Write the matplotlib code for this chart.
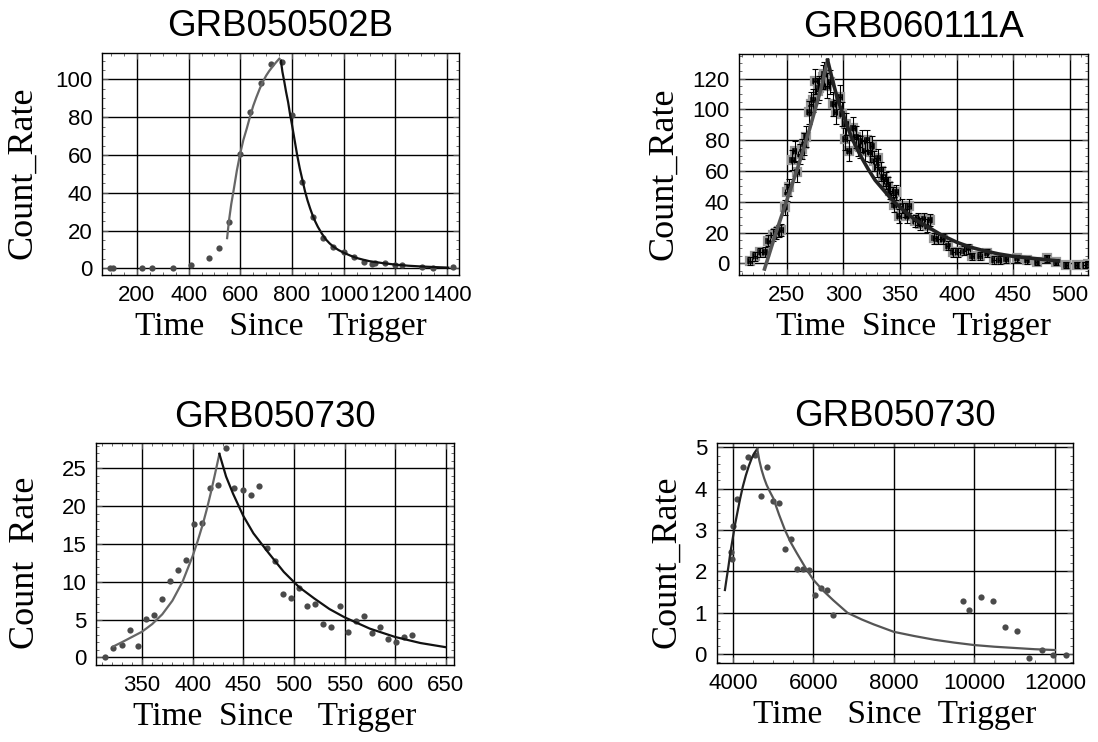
import matplotlib
matplotlib.use("Agg")
import matplotlib.pyplot as plt
from matplotlib.ticker import MultipleLocator

# ---- GRB050502B ----
t1 = [97, 107, 219, 258, 340, 410, 479, 519, 558, 599, 639, 679, 718, 760,
      800, 840, 880, 921, 960, 1000, 1040, 1079, 1109, 1121, 1160, 1200,
      1225, 1303, 1346, 1423]
r1 = [0.0, 0.3, 0.0, 0.3, 0.3, 2.0, 5.3, 10.6, 24.7, 60.7, 82.5, 98.2, 108.3,
      109.2, 81.0, 45.5, 27.2, 16.0, 11.5, 8.5, 6.2, 3.5, 2.5, 2.6, 2.6, 1.8,
      1.6, 0.7, 0.2, 0.7]
rise1_t = [549, 556, 565, 575, 587, 600, 612, 625, 637, 650, 662, 675, 687,
           700, 712, 725, 738, 751]
rise1_r = [16, 25, 34, 42, 52, 61, 68, 74, 80, 86, 90.5, 95, 98.7, 102,
           104.5, 106.8, 109, 111]
decay1_t = [757, 763, 770, 777, 785, 792, 800, 810, 820, 830, 840, 850, 860,
            870, 880, 890, 900, 915, 930, 945, 960, 980, 1000, 1025, 1050,
            1075, 1100, 1150, 1200, 1250, 1300, 1350, 1405]
decay1_r = [110, 104, 99, 93.5, 88, 82, 76, 68, 60, 53, 47, 41, 36, 31.8,
            28, 24.8, 22, 18.5, 15.5, 13.3, 11.5, 9.7, 8.3, 6.8, 5.5, 4.6,
            3.8, 2.8, 2.0, 1.4, 1.0, 0.7, 0.4]

# ---- GRB060111A ----
t2 = [217.6, 222.0, 226.5, 230.3, 233.8, 237.6, 240.3, 243.2, 245.0, 248.0,
      250.0, 252.0, 255.0, 256.8, 259.0, 261.5, 263.2, 265.6, 266.8, 269.7,
      271.5, 273.2, 275.0, 277.4, 278.8, 281.5, 283.2, 285.3, 288.2, 291.2,
      293.2, 297.0, 298.5, 301.5, 302.4, 305.0, 308.8, 310.9, 312.6, 314.7,
      316.8, 319.1, 321.2, 323.2, 325.0, 327.4, 329.4, 330.9, 333.2, 335.3,
      337.4, 339.1, 341.5, 343.8, 345.0, 346.8, 349.1, 351.5, 354.4, 355.9,
      358.0, 363.2, 365.6, 368.0, 370.9, 373.5, 376.2, 380.3, 383.8, 387.6,
      392.0, 397.0, 401.5, 406.8, 410.0, 413.8, 420.6, 426.5, 433.0, 438.0,
      444.0, 453.0, 461.8, 470.6, 480.0, 488.0, 497.0, 506.0, 513.0, 516.0]
r2 = [1.3, 4.5, 7.1, 7.4, 14.7, 18.4, 19.5, 21.2, 21.7, 36.4,
      46.2, 49.4, 67.2, 72.8, 59.2, 71.0, 74.3, 77.6, 82.3, 98.0,
      103.6, 106.0, 118.3, 112.2, 114.0, 121.0, 123.0, 115.5, 117.7, 103.6,
      98.2, 108.0, 97.0, 80.8, 90.6, 73.2, 88.0, 82.0, 76.5, 75.4,
      79.3, 73.2, 80.2, 72.2, 76.5, 66.7, 62.4, 68.5, 59.8, 56.3,
      53.7, 50.5, 47.2, 44.4, 38.1, 46.2, 31.0, 37.5, 34.7, 31.0,
      37.5, 27.3, 28.8, 25.6, 28.8, 24.5, 28.2, 16.3, 15.8, 15.8,
      11.5, 7.2, 7.2, 8.2, 9.3, 4.5, 4.8, 6.5, 2.2, 2.2,
      2.6, 3.2, 2.2, 1.1, 3.2, 1.1, -1.1, -1.1, -1.3, -0.6]
e2 = [2.5, 3, 3, 3, 3.5, 4, 4, 4, 4, 5,
      5.5, 5.5, 6.5, 6.5, 6.5, 6.5, 6.5, 7, 7, 7.5,
      7.5, 7.5, 8, 8, 8, 8, 8, 8, 8, 8,
      8, 8, 8, 7, 7, 7, 7, 7, 7, 7,
      7, 7, 6.5, 6.5, 6.5, 6.5, 6, 6, 6, 6,
      5.5, 5.5, 5.5, 5, 5, 5, 4.5, 4.5, 4.5, 4.5,
      4.5, 4, 4, 4, 4, 4, 4, 3.5, 3.5, 3.5,
      3, 3, 3, 3, 3, 2.5, 2.5, 2.5, 2.5, 2.5,
      2.5, 2.5, 2.5, 2.5, 2.5, 2, 2, 2, 2, 2]
rise2_t = [230.3, 240, 250, 260, 270, 280, 286]
rise2_r = [-3.7, 19, 41, 63, 87, 113, 132]
decay2_t = [286, 290, 295, 300, 307, 315, 322, 328, 335, 342, 350, 362, 375,
            387, 400, 412, 425, 437, 450, 470, 490]
decay2_r = [132, 120, 106, 96, 82, 70, 61, 54, 48, 42, 36.4, 29, 23.4, 18.2,
            13.7, 10.5, 8.0, 6.1, 4.5, 3.0, 1.5]

# ---- GRB050730 (early) ----
t3 = [313.8, 321.7, 329.9, 337.8, 345.7, 353.6, 361.9, 369.8, 377.7, 385.6,
      393.5, 401.7, 409.6, 417.5, 425.5, 433.4, 441.3, 449.5, 457.4, 465.7,
      473.6, 481.5, 489.4, 497.3, 505.2, 513.1, 521.0, 529.2, 537.1, 545.1,
      553.0, 561.2, 569.1, 577.0, 584.9, 592.8, 600.7, 608.6, 616.9]
r3 = [0.0, 1.2, 1.6, 3.6, 1.5, 5.1, 5.6, 7.7, 10.1, 11.5,
      12.9, 17.6, 17.8, 22.4, 22.8, 27.7, 22.4, 22.1, 21.4, 22.7,
      14.4, 12.7, 8.4, 7.9, 9.2, 6.8, 7.1, 4.4, 4.0, 6.8,
      3.4, 4.8, 5.5, 3.2, 4.0, 2.4, 2.0, 2.7, 3.0]
rise3_t = [321.7, 330, 340, 350, 360, 370, 380, 390, 400, 405, 410, 414,
           418, 422, 426.4]
rise3_r = [1.45, 2.0, 2.7, 3.4, 4.4, 5.7, 7.5, 10.0, 13.4, 15.4, 17.6, 19.6,
           21.8, 24.2, 26.9]
decay3_t = [426.4, 433, 440, 450, 460, 475, 490, 505, 520, 535, 550, 575,
            600, 625, 650]
decay3_r = [26.9, 23.9, 21.6, 18.7, 16.4, 13.8, 11.3, 9.3, 7.8, 6.4, 5.3,
            3.8, 2.7, 1.9, 1.35]

# ---- GRB050730 (late) ----
t4 = [3946, 3988, 4004, 4095, 4244, 4385, 4551, 4692, 4841, 4990, 5139,
      5288, 5437, 5586, 5735, 5884, 6041, 6190, 6340, 6497, 9727, 9867,
      10157, 10472, 10762, 11060, 11366, 11673, 11963, 12270]
r4 = [2.47, 2.31, 3.10, 3.74, 4.52, 4.76, 4.81, 3.81, 4.52, 3.69, 3.66,
      2.54, 2.78, 2.06, 2.06, 2.03, 1.44, 1.60, 1.55, 0.94, 1.29, 1.06,
      1.39, 1.29, 0.66, 0.56, -0.10, 0.10, -0.02, -0.02]
rise4_t = [3805, 3850, 3890, 3940, 4000, 4050, 4100, 4175, 4250, 4325, 4400,
           4470, 4530, 4609]
rise4_r = [1.55, 1.85, 2.1, 2.45, 2.8, 3.1, 3.35, 3.72, 4.05, 4.32, 4.55,
           4.73, 4.85, 4.96]
decay4_t = [4609, 4660, 4717, 4780, 4841, 4920, 5006, 5150, 5296, 5440, 5586,
            5830, 6000, 6250, 6500, 6850, 7200, 7500, 8000, 8500, 9000, 9500,
            10000, 10500, 11000, 11500, 12004]
decay4_r = [4.96, 4.68, 4.45, 4.25, 4.09, 3.93, 3.77, 3.37, 3.0, 2.7, 2.45,
            2.05, 1.8, 1.53, 1.3, 1.0, 0.84, 0.72, 0.54, 0.44, 0.35, 0.28,
            0.22, 0.18, 0.15, 0.12, 0.1]

sans = "Liberation Sans"
serif = "Liberation Serif"

fig = plt.figure(figsize=(10.98, 7.42), dpi=100)


def style(ax, title, ylabel, xlabel, xmaj, xmin, ymaj, ymin, xlim, ylim, ylx):
    ax.set_xlim(*xlim)
    ax.set_ylim(*ylim)
    ax.xaxis.set_major_locator(MultipleLocator(xmaj))
    ax.xaxis.set_minor_locator(MultipleLocator(xmin))
    ax.yaxis.set_major_locator(MultipleLocator(ymaj))
    ax.yaxis.set_minor_locator(MultipleLocator(ymin))
    ax.grid(True, which="major", color="black", lw=1.0)
    ax.set_axisbelow(True)
    ax.tick_params(which="both", direction="in", top=True, right=True,
                   labelsize=16, color="#555")
    ax.tick_params(which="major", length=4, width=0.8, pad=7)
    ax.tick_params(which="minor", length=2.5, width=0.6)
    for lab in ax.get_xticklabels() + ax.get_yticklabels():
        lab.set_family(sans)
    for sp in ax.spines.values():
        sp.set_linewidth(1.0)
    ax.set_title(title, fontsize=26.5, family=sans, pad=12)
    ax.set_xlabel(xlabel, fontsize=24, family=serif)
    ax.set_ylabel(ylabel, fontsize=26, family=serif)
    ax.xaxis.set_label_coords(0.5, -0.165)
    ax.yaxis.set_label_coords(ylx, 0.46)


dot = "#4a4a4a"

ax1 = fig.add_axes([0.0929, 0.6294, 0.3251, 0.2992])
ax1.plot(t1, r1, "o", color=dot, ms=4.5, mew=0, zorder=3)
ax1.plot(rise1_t, rise1_r, color="#666666", lw=1.6, zorder=4)
ax1.plot(decay1_t, decay1_r, color="#111111", lw=1.6, zorder=4)
style(ax1, "GRB050502B", "Count_Rate", "Time   Since   Trigger",
      200, 50, 20, 5, (65, 1446), (-3.5, 114), -0.176)

ax2 = fig.add_axes([0.6733, 0.6294, 0.3176, 0.2978])
ax2.plot(t2, r2, "s", ms=6, mfc="#222222", mec="#999999", mew=1.6, zorder=3)
ax2.errorbar(t2, r2, yerr=e2, xerr=1.5, fmt="none", ecolor="black",
             elinewidth=0.8, capsize=2.5, capthick=0.8, zorder=4)
ax2.plot(rise2_t, rise2_r, color="#555555", lw=2.6, zorder=5)
ax2.plot(decay2_t, decay2_r, color="#222222", lw=2.6, zorder=5)
style(ax2, "GRB060111A", "Count_Rate", "Time  Since  Trigger",
      50, 10, 20, 5, (208, 516), (-7.6, 136), -0.170)

ax3 = fig.add_axes([0.0874, 0.1038, 0.3260, 0.2988])
ax3.plot(t3, r3, "o", color=dot, ms=4.5, mew=0, zorder=3)
ax3.plot(rise3_t, rise3_r, color="#666666", lw=1.6, zorder=4)
ax3.plot(decay3_t, decay3_r, color="#111111", lw=1.6, zorder=4)
style(ax3, "GRB050730", "Count  Rate", "Time  Since   Trigger",
      50, 10, 5, 1, (304.5, 658), (-1.0, 28.3), -0.151)

ax4 = fig.add_axes([0.6527, 0.1061, 0.3248, 0.2973])
ax4.plot(t4, r4, "o", color=dot, ms=4.5, mew=0, zorder=3)
ax4.plot(rise4_t, rise4_r, color="#222222", lw=1.6, zorder=4)
ax4.plot(decay4_t, decay4_r, color="#555555", lw=1.6, zorder=4)
style(ax4, "GRB050730", "Count_Rate", "Time   Since  Trigger",
      2000, 500, 1, 0.2, (3600, 12460), (-0.22, 5.11), -0.094)

fig.savefig("out.png", dpi=100)
